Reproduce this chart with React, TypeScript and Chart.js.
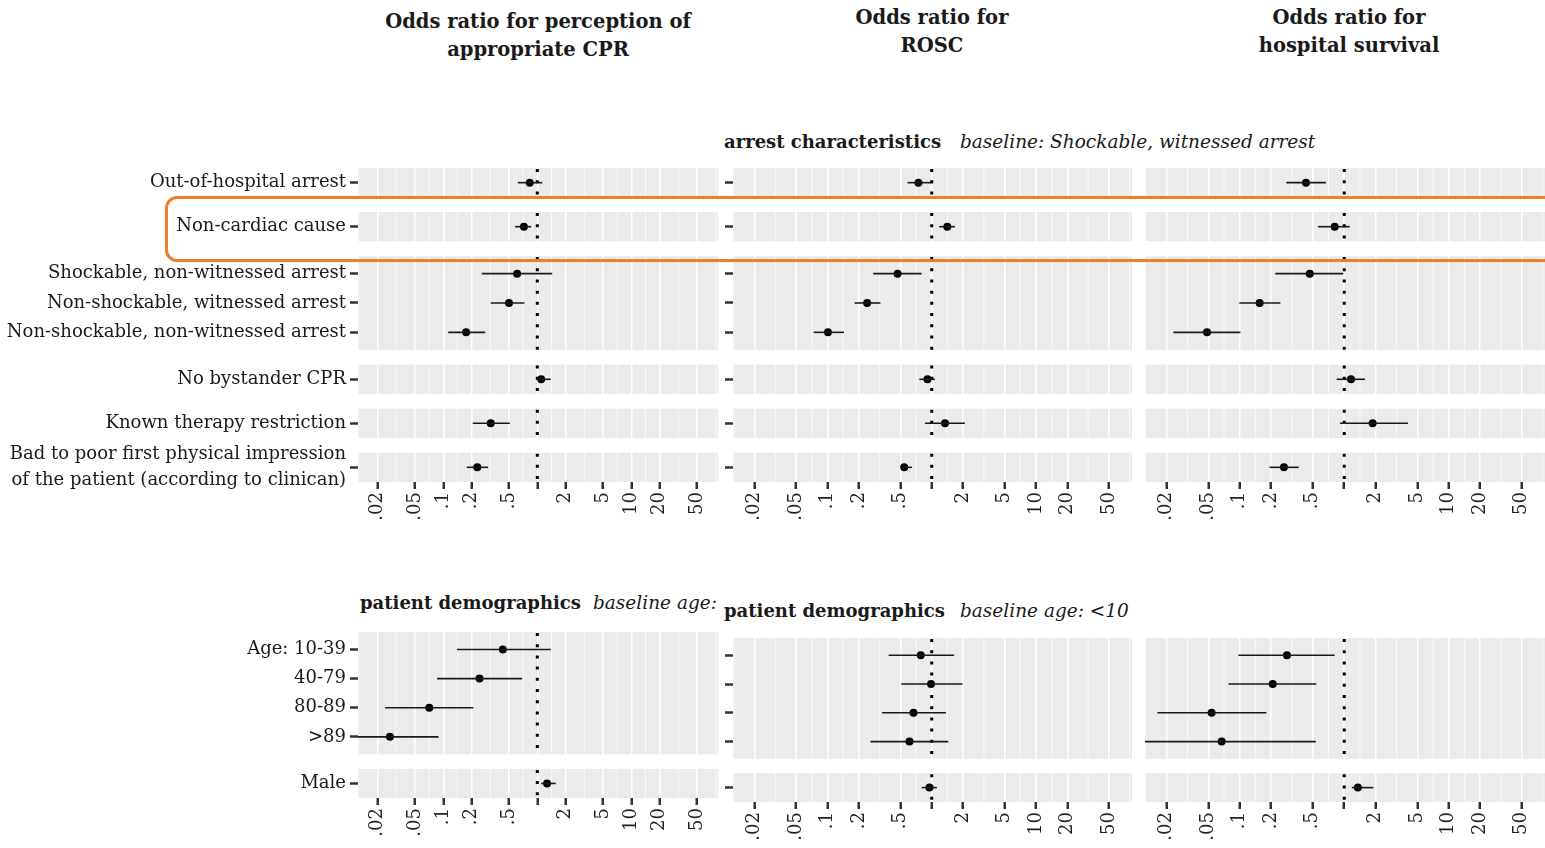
import React, { useEffect, useRef } from "react";
import { Chart, registerables } from "chart.js";
Chart.register(...registerables);

// ---------------- data ----------------
const arrestLabels: (string | string[])[] = [
  "Out-of-hospital arrest",
  "Non-cardiac cause",
  "Shockable, non-witnessed arrest",
  "Non-shockable, witnessed arrest",
  "Non-shockable, non-witnessed arrest",
  "No bystander CPR",
  "Known therapy restriction",
  ["Bad to poor first physical impression", "of the patient (according to clinican)"],
];
const arrestGroups = [1, 1, 3, 1, 1, 1];

const demoLabels = ["Age: 10-39", "40-79", "80-89", ">89", "Male"];
const demoGroups = [4, 1];

const cprArrestOR = [0.83, 0.72, 0.61, 0.5, 0.175, 1.1, 0.32, 0.23];
const cprArrestLo = [0.62, 0.58, 0.257, 0.32, 0.113, 0.975, 0.206, 0.178];
const cprArrestHi = [1.13, 0.86, 1.44, 0.73, 0.279, 1.39, 0.51, 0.3];

const roscArrestOR = [0.745, 1.41, 0.47, 0.24, 0.101, 0.91, 1.34, 0.545];
const roscArrestLo = [0.586, 1.18, 0.274, 0.182, 0.0736, 0.76, 0.86, 0.5];
const roscArrestHi = [1.02, 1.67, 0.8, 0.322, 0.144, 1.07, 2.08, 0.645];

const survArrestOR = [0.43, 0.81, 0.468, 0.155, 0.0486, 1.16, 1.87, 0.265];
const survArrestLo = [0.279, 0.562, 0.219, 0.099, 0.0232, 0.845, 0.91, 0.193];
const survArrestHi = [0.667, 1.13, 0.98, 0.245, 0.1016, 1.58, 4.07, 0.367];

const cprDemoOR = [0.43, 0.243, 0.071, 0.0271, 1.27];
const cprDemoLo = [0.14, 0.086, 0.0241, 0.008, 1.1];
const cprDemoHi = [1.39, 0.69, 0.209, 0.089, 1.57];

const roscDemoOR = [0.785, 0.985, 0.668, 0.612, 0.95];
const roscDemoLo = [0.386, 0.51, 0.334, 0.258, 0.8];
const roscDemoHi = [1.64, 1.97, 1.37, 1.44, 1.12];

const survDemoOR = [0.283, 0.207, 0.0538, 0.0671, 1.35];
const survDemoLo = [0.097, 0.078, 0.0163, 0.009, 1.18];
const survDemoHi = [0.81, 0.54, 0.18, 0.535, 1.9];

const xTicks = [0.02, 0.05, 0.1, 0.2, 0.5, 1, 2, 5, 10, 20, 50];
const xTickLabels = [".02", ".05", ".1", ".2", ".5", "", "2", "5", "10", "20", "50"];
const xMin = 0.0124;
const xMax = 83.4;

// ---------------- helpers ----------------
const SERIF = "'DejaVu Serif', serif";

function layoutRows(groups: number[]) {
  const pos: number[] = [];
  const bands: [number, number][] = [];
  let cur = 0;
  groups.forEach((n) => {
    const pad = n > 1 ? 0.6 : 0.5;
    for (let i = 0; i < n; i++) pos.push(cur + pad + i);
    const bottom = cur + pad * 2 + (n - 1);
    bands.push([cur, bottom]);
    cur = bottom + 0.5;
  });
  return { pos, bands, max: cur - 0.5 };
}

function minorBreaks(ticks: number[]) {
  const out: number[] = [];
  out.push(ticks[0] / Math.sqrt(ticks[1] / ticks[0]));
  for (let i = 0; i < ticks.length - 1; i++) out.push(Math.sqrt(ticks[i] * ticks[i + 1]));
  const n = ticks.length;
  out.push(ticks[n - 1] * Math.sqrt(ticks[n - 1] / ticks[n - 2]));
  return out.filter((v) => v > xMin && v < xMax);
}

const bandPlugin = {
  id: "panelBands",
  beforeDraw(chart: any, _args: any, opts: any) {
    const { ctx, chartArea: a, scales } = chart;
    const x = scales.x;
    const y = scales.y;
    ctx.save();
    ctx.fillStyle = "#EBEBEB";
    opts.bands.forEach(([t, b]: [number, number]) => {
      const y0 = y.getPixelForValue(t);
      const y1 = y.getPixelForValue(b);
      ctx.fillRect(a.left, y0, a.right - a.left, y1 - y0);
    });
    ctx.strokeStyle = "#ffffff";
    ctx.lineWidth = 0.7;
    opts.minor.forEach((v: number) => {
      const px = x.getPixelForValue(v);
      opts.bands.forEach(([t, b]: [number, number]) => {
        ctx.beginPath();
        ctx.moveTo(px, y.getPixelForValue(t));
        ctx.lineTo(px, y.getPixelForValue(b));
        ctx.stroke();
      });
    });
    ctx.restore();
  },
  beforeDatasetsDraw(chart: any, _args: any, opts: any) {
    const { ctx, scales } = chart;
    const x = scales.x;
    const y = scales.y;
    const px = x.getPixelForValue(1);
    ctx.save();
    ctx.strokeStyle = "#000";
    ctx.lineWidth = 3;
    ctx.setLineDash([3, 8.2]);
    opts.bands.forEach(([t, b]: [number, number]) => {
      ctx.beginPath();
      ctx.moveTo(px, y.getPixelForValue(t) + 1);
      ctx.lineTo(px, y.getPixelForValue(b));
      ctx.stroke();
    });
    ctx.restore();
  },
};

type PanelProps = {
  left: number;
  areaTop: number;
  areaW: number;
  areaH: number;
  yAxisW: number;
  xAxisH: number;
  labels: (string | string[])[];
  showLabels: boolean;
  showYTicks: boolean;
  groups: number[];
  or: number[];
  lo: number[];
  hi: number[];
};

function Panel(p: PanelProps) {
  const ref = useRef<HTMLCanvasElement | null>(null);
  const padTop = 12;
  const W = p.yAxisW + p.areaW;
  const H = padTop + p.areaH + p.xAxisH;
  useEffect(() => {
    if (!ref.current) return;
    const { pos, bands, max } = layoutRows(p.groups);
    const minor = minorBreaks(xTicks);
    const ciSets = pos.map((yy, i) => ({
      type: "line" as const,
      data: [
        { x: p.lo[i], y: yy },
        { x: p.hi[i], y: yy },
      ],
      borderColor: "#1a1a1a",
      borderWidth: 1.6,
      pointRadius: 0,
      fill: false,
    }));
    const chart = new Chart(ref.current, {
      type: "scatter",
      data: {
        datasets: [
          ...ciSets,
          {
            type: "scatter" as const,
            data: pos.map((yy, i) => ({ x: p.or[i], y: yy })),
            pointRadius: 4,
            backgroundColor: "#000",
            borderColor: "#000",
            borderWidth: 0,
          },
        ] as any,
      },
      options: {
        animation: false,
        responsive: false,
        events: [],
        layout: { padding: { top: padTop, left: 0, right: 0, bottom: 0 }, autoPadding: false } as any,
        plugins: {
          legend: { display: false },
          tooltip: { enabled: false },
          panelBands: { bands, minor },
        } as any,
        scales: {
          x: {
            type: "logarithmic",
            min: xMin,
            max: xMax,
            position: "bottom",
            afterBuildTicks: (s: any) => {
              s.ticks = xTicks.map((v) => ({ value: v }));
            },
            afterFit: (s: any) => {
              s.height = p.xAxisH;
              s.paddingLeft = 0;
              s.paddingRight = 0;
              s.paddingTop = 0;
              s.paddingBottom = 0;
            },
            ticks: {
              autoSkip: false,
              maxRotation: 90,
              minRotation: 90,
              padding: 3,
              color: "#222",
              font: { family: SERIF, size: 18 },
              callback: (_v: any, i: number) => xTickLabels[i],
            },
            grid: {
              color: "#ffffff",
              lineWidth: 1.5,
              drawTicks: true,
              tickLength: 7,
              tickColor: "#333",
              tickWidth: 2.5,
            },
            border: { display: false },
          },
          y: {
            type: "linear",
            reverse: true,
            min: 0,
            max,
            display: p.showYTicks,
            afterBuildTicks: (s: any) => {
              s.ticks = pos.map((v) => ({ value: v }));
            },
            afterFit: (s: any) => {
              s.width = p.yAxisW;
              s.paddingLeft = 0;
              s.paddingRight = 0;
              s.paddingTop = 0;
              s.paddingBottom = 0;
            },
            ticks: {
              autoSkip: false,
              padding: 4,
              color: "#1a1a1a",
              font: { family: SERIF, size: 18, lineHeight: 1.45 },
              callback: (_v: any, i: number) => (p.showLabels ? (p.labels[i] as any) : ""),
            },
            grid: {
              drawOnChartArea: false,
              drawTicks: true,
              tickLength: 8,
              tickColor: "#333",
              tickWidth: 2.5,
            },
            border: { display: false },
          },
        } as any,
      },
      plugins: [bandPlugin as any],
    });
    return () => chart.destroy();
  }, []);
  return (
    <canvas
      ref={ref}
      width={W}
      height={H}
      style={{ position: "absolute", left: p.left, top: p.areaTop - padTop, width: W, height: H }}
    />
  );
}

const txt: React.CSSProperties = {
  position: "absolute",
  whiteSpace: "nowrap",
  fontFamily: SERIF,
  color: "#1a1a1a",
  lineHeight: 1,
};

function Title({ cx, top, lines }: { cx: number; top: number; lines: string[] }) {
  return (
    <div
      style={{
        ...txt,
        left: cx - 250,
        width: 500,
        top,
        textAlign: "center",
        fontWeight: "bold",
        fontSize: 19.5,
        lineHeight: "28px",
      }}
    >
      {lines.map((l, i) => (
        <div key={i}>{l}</div>
      ))}
    </div>
  );
}

function FacetHead({ x1, x2, cy, a, b, clipW }: { x1: number; x2: number; cy: number; a: string; b: string; clipW?: number }) {
  return (
    <div style={{ position: "absolute", left: x1, top: cy - 12, height: 26, width: clipW ?? 700, overflow: "hidden" }}>
      <span style={{ ...txt, left: 0, top: 3, fontWeight: "bold", fontSize: 18 }}>{a}</span>
      <span style={{ ...txt, left: x2 - x1, top: 3, fontStyle: "italic", fontSize: 18.5 }}>{b}</span>
    </div>
  );
}

export default function App() {
  return (
    <div
      style={{
        position: "absolute",
        left: 0,
        top: 0,
        width: 1545,
        height: 848,
        overflow: "hidden",
        background: "#fff",
      }}
    >
      <Title cx={538} top={8} lines={["Odds ratio for perception of", "appropriate CPR"]} />
      <Title cx={932} top={4} lines={["Odds ratio for", "ROSC"]} />
      <Title cx={1349} top={4} lines={["Odds ratio for", "hospital survival"]} />

      <FacetHead x1={724} x2={960} cy={142} a="arrest characteristics" b="baseline: Shockable, witnessed arrest" />
      <FacetHead x1={360} x2={593} cy={603} a="patient demographics" b="baseline age: <10" clipW={358} />
      <FacetHead x1={724} x2={960} cy={611} a="patient demographics" b="baseline age: <10" />

      <Panel left={0} areaTop={168} areaW={360} areaH={314} yAxisW={358} xAxisH={52}
        labels={arrestLabels} showLabels showYTicks groups={arrestGroups}
        or={cprArrestOR} lo={cprArrestLo} hi={cprArrestHi} />
      <Panel left={720} areaTop={168} areaW={399} areaH={314} yAxisW={13} xAxisH={52}
        labels={arrestLabels} showLabels={false} showYTicks groups={arrestGroups}
        or={roscArrestOR} lo={roscArrestLo} hi={roscArrestHi} />
      <Panel left={1145} areaTop={168} areaW={400} areaH={314} yAxisW={0} xAxisH={52}
        labels={arrestLabels} showLabels={false} showYTicks={false} groups={arrestGroups}
        or={survArrestOR} lo={survArrestLo} hi={survArrestHi} />

      <Panel left={0} areaTop={632} areaW={360} areaH={166} yAxisW={358} xAxisH={48}
        labels={demoLabels} showLabels showYTicks groups={demoGroups}
        or={cprDemoOR} lo={cprDemoLo} hi={cprDemoHi} />
      <Panel left={720} areaTop={638} areaW={399} areaH={164} yAxisW={13} xAxisH={46}
        labels={demoLabels} showLabels={false} showYTicks groups={demoGroups}
        or={roscDemoOR} lo={roscDemoLo} hi={roscDemoHi} />
      <Panel left={1145} areaTop={638} areaW={400} areaH={164} yAxisW={0} xAxisH={46}
        labels={demoLabels} showLabels={false} showYTicks={false} groups={demoGroups}
        or={survDemoOR} lo={survDemoLo} hi={survDemoHi} />

      <div
        style={{
          position: "absolute",
          left: 165,
          top: 196,
          width: 1420,
          height: 60,
          border: "3px solid #ED7D31",
          borderRadius: 12,
          zIndex: 10,
        }}
      />
    </div>
  );
}
